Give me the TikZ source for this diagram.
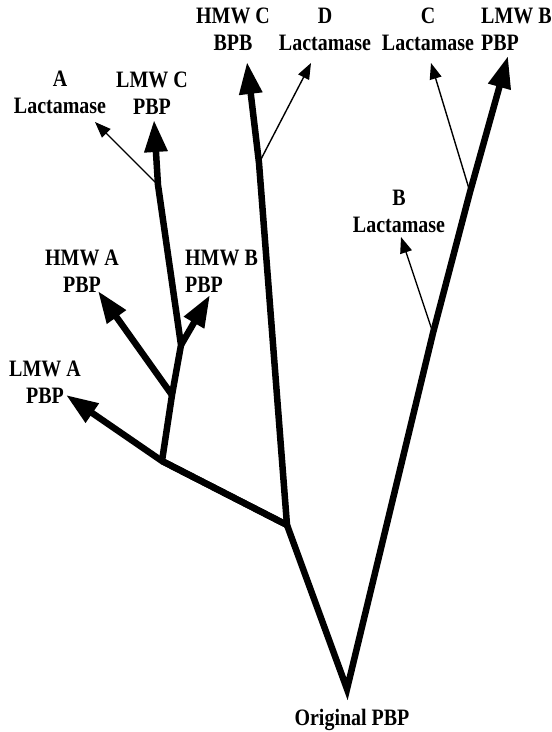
\documentclass[tikz,border=0pt]{standalone}
\usepackage{fontspec}
\setmainfont{Liberation Serif}
\newfontfamily\lblfont{Liberation Serif}[FakeStretch=0.85]
\usetikzlibrary{arrows.meta}
\tikzset{
  limb/.style={line width=6.5pt, line join=miter, color=black},
  heavyarrow/.style={limb, -{Triangle[length=32pt, width=22pt]}},
  lightarrow/.style={line width=1.4pt, color=black, -{Triangle[length=16pt, width=12pt]}},
  lbl/.style={font=\lblfont\bfseries\fontsize{23.5}{27}\selectfont, align=center, inner sep=0pt}
}

\begin{document}
\begin{tikzpicture}[x=1pt, y=-1pt]
  \useasboundingbox (0,0) rectangle (552,732);

  % Labels, top row
  \node[lbl] (hmwcL) at (233,29) {HMW C\\BPB};
  \node[lbl] (dlacL) at (325,29) {D\\Lactamase};
  \node[lbl] (clacL) at (428,29) {C\\Lactamase};
  \node[lbl, align=left, anchor=west] (lmwbL) at (481,29) {LMW B\\PBP};

  % Labels, left side
  \node[lbl] (alacL) at (60,92) {A\\Lactamase};
  \node[lbl] (lmwcL) at (152,93) {LMW C\\PBP};
  \node[lbl] (blacL) at (399,211) {B\\Lactamase};
  \node[lbl] (hmwaL) at (82,271) {HMW A\\PBP};
  \node[lbl, align=left, anchor=west] (hmwbL) at (185,271) {HMW B\\PBP};
  \node[lbl] (lmwaL) at (45,382) {LMW A\\PBP};
  \node[lbl, anchor=base] (origL) at (352,725) {Original PBP};

  % Branch points
  \coordinate (root) at (347,689);
  \coordinate (j1) at (287,525);
  \coordinate (j2) at (162,461);
  \coordinate (j3) at (172,395);
  \coordinate (j4) at (181,345);
  \coordinate (ja) at (158,185);
  \coordinate (jd) at (259,163);
  \coordinate (jb) at (433,333);
  \coordinate (jc) at (470,192);

  % Arrow tips
  \coordinate (tipHMWC) at (247,62);
  \coordinate (tipD) at (311,63);
  \coordinate (tipC) at (431,63);
  \coordinate (tipLMWB) at (508,56);
  \coordinate (tipA) at (95,122);
  \coordinate (tipLMWC) at (154,120);
  \coordinate (tipB) at (401,237);
  \coordinate (tipHMWA) at (98,291);
  \coordinate (tipHMWB) at (210,295);
  \coordinate (tipLMWA) at (66,395);

  % Main tree
  \draw[heavyarrow] (j1) -- (root) -- (jb) -- (jc) -- (tipLMWB);
  \draw[heavyarrow] (j2) -- (j1) -- (jd) -- (tipHMWC);
  \draw[heavyarrow] (j1) -- (j2) -- (tipLMWA);
  \draw[heavyarrow] (j2) -- (j3) -- (j4) -- (ja) -- (tipLMWC);
  \draw[heavyarrow] (j3) -- (tipHMWA);
  \draw[heavyarrow] (j4) -- (tipHMWB);

  % Lactamase side branches
  \draw[lightarrow] (ja) -- (tipA);
  \draw[lightarrow] (jd) -- (tipD);
  \draw[lightarrow] (jb) -- (tipB);
  \draw[lightarrow] (jc) -- (tipC);
\end{tikzpicture}
\end{document}
